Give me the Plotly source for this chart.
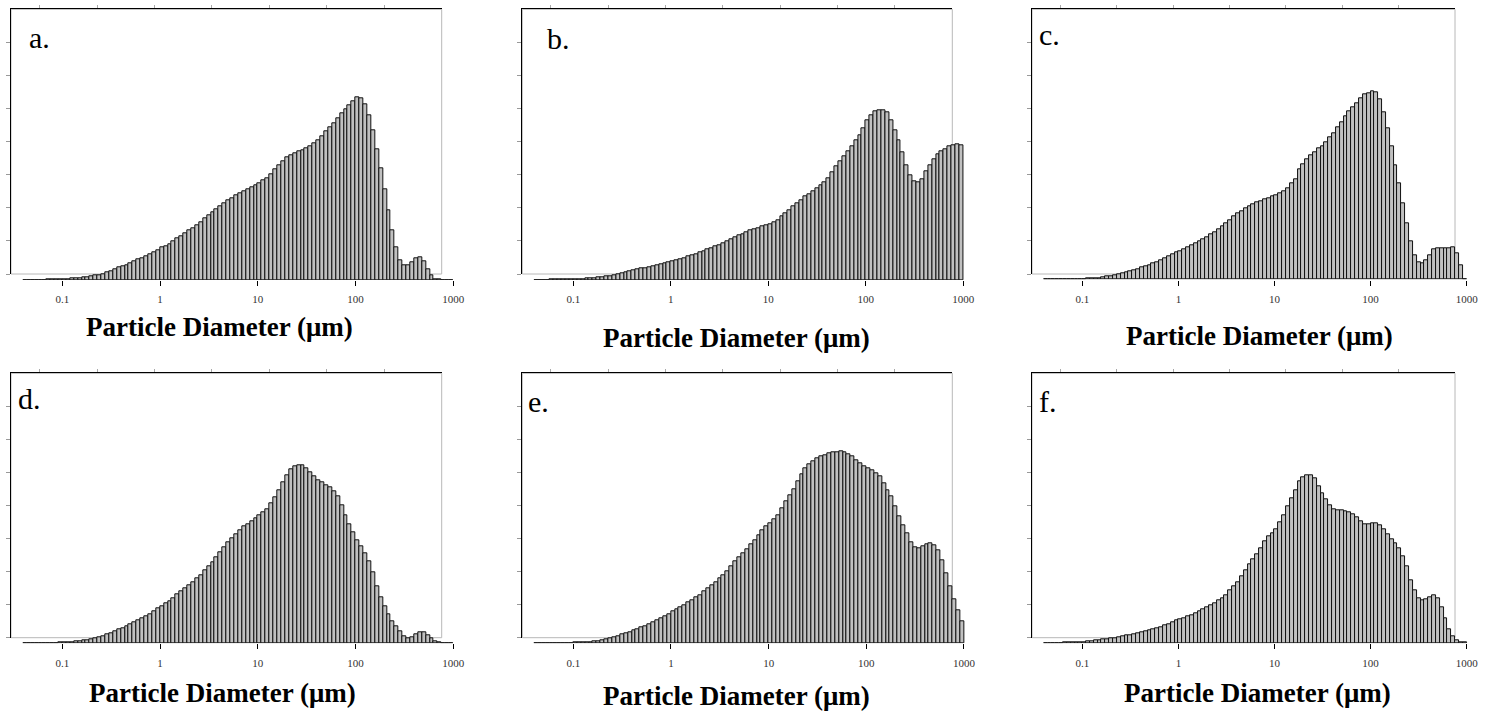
import numpy as np
import plotly.graph_objects as go

W, H = 1492, 713

# Instrument size channels: 110 log-spaced classes from ~0.04 to 1000 µm
BIN_LOG_MIN, BIN_LOG_MAX, N_BINS = -1.4, 3.0, 110

TICK_VALUES = [0.1, 1, 10, 100, 1000]
TICK_LABELS = ["0.1", "1", "10", "100", "1000"]
PANEL_LABELS = ["a.", "b.", "c.", "d.", "e.", "f."]
X_TITLE = "Particle Diameter (μm)"

# Relative frequency per channel (arbitrary units)
freq_a = [0, 0, 0, 0, 0, 0, 0.3, 0.3, 0.5, 0.7,
          0.8, 1.0, 1.3, 1.7, 2.0, 2.3, 3.0, 3.7, 4.3, 5.0,
          6.0, 7.3, 9.0, 10.7, 12.3, 13.7, 15.0, 16.7, 18.3, 20.3,
          22.0, 24.0, 26.0, 27.7, 29.7, 32.3, 34.0, 36.0, 39.0, 41.3,
          44.0, 46.7, 49.3, 52.0, 55.0, 58.0, 61.3, 64.7, 67.7, 70.7,
          73.3, 76.7, 79.3, 81.7, 84.7, 87.0, 88.7, 90.3, 92.7, 94.7,
          96.7, 99.3, 101.7, 106.0, 110.7, 115.0, 119.0, 122.7, 125.0, 126.7,
          128.3, 130.0, 132.0, 134.0, 136.7, 140.0, 144.0, 148.3, 152.7, 156.7,
          161.7, 166.7, 170.7, 175.0, 179.0, 182.7, 181.3, 175.7, 164.3, 149.3,
          130.7, 111.7, 91.0, 70.0, 50.0, 32.7, 20.0, 14.7, 14.7, 18.0,
          21.7, 22.7, 18.3, 10.7, 4.3, 1.0, 0.3, 0.2, 0, 0]

freq_b = [0.2, 0.2, 0.2, 0.2, 0.3, 0.3, 0.3, 0.5, 0.5, 0.7,
          0.7, 0.8, 1.0, 1.3, 1.7, 2.0, 2.3, 3.0, 3.3, 4.0,
          4.7, 5.7, 6.7, 7.3, 8.3, 9.3, 10.3, 11.3, 12.0, 13.0,
          14.0, 15.0, 15.7, 16.3, 17.3, 18.3, 19.7, 21.0, 22.0, 23.3,
          24.7, 26.0, 27.3, 29.0, 30.3, 31.7, 33.3, 35.0, 36.7, 38.7,
          40.7, 42.7, 44.3, 46.0, 47.7, 49.3, 50.7, 52.0, 53.3, 54.7,
          56.0, 58.0, 60.0, 63.3, 66.7, 69.3, 73.3, 76.7, 80.0, 83.3,
          86.0, 88.7, 91.3, 94.3, 97.3, 102.0, 107.3, 113.3, 118.3, 123.3,
          128.3, 134.0, 139.3, 145.0, 151.7, 159.3, 165.0, 168.3, 170.0, 169.3,
          167.3, 159.3, 150.0, 140.0, 127.3, 115.0, 105.0, 98.3, 97.7, 101.0,
          108.3, 115.0, 120.7, 126.0, 128.3, 131.0, 133.3, 134.7, 136.0, 134.3]

freq_c = [0, 0, 0, 0, 0, 0.2, 0.2, 0.3, 0.3, 0.5,
          0.7, 0.8, 1.0, 1.3, 1.7, 2.3, 2.8, 3.7, 4.3, 5.2,
          6.0, 7.0, 8.0, 9.0, 10.3, 12.0, 13.3, 14.7, 16.0, 17.7,
          19.3, 21.0, 23.0, 25.0, 27.0, 28.7, 30.7, 32.3, 34.3, 36.3,
          38.3, 40.3, 42.3, 45.0, 47.7, 50.3, 53.0, 56.0, 59.3, 63.0,
          66.0, 68.7, 71.3, 73.7, 75.3, 77.0, 78.7, 80.0, 81.7, 83.0,
          84.3, 86.7, 88.7, 91.7, 96.0, 100.7, 110.0, 115.3, 120.0, 124.3,
          127.7, 131.0, 133.7, 137.7, 142.0, 146.0, 152.0, 157.7, 163.3, 168.3,
          172.7, 176.7, 181.7, 185.0, 186.7, 188.0, 187.3, 180.0, 167.7, 151.7,
          133.3, 114.7, 96.0, 76.0, 56.0, 38.7, 24.7, 17.3, 16.0, 19.0,
          24.3, 30.0, 31.7, 31.7, 31.7, 31.7, 32.0, 26.0, 14.3, 0]

freq_d = [0.1, 0.2, 0.2, 0.2, 0.2, 0.3, 0.3, 0.3, 0.5, 0.7,
          0.8, 1.0, 1.3, 1.7, 2.2, 2.7, 3.3, 4.2, 5.0, 6.0,
          7.3, 8.7, 10.3, 12.0, 13.7, 15.3, 17.0, 19.0, 21.0, 23.0,
          25.0, 27.0, 29.3, 32.0, 34.7, 37.3, 39.7, 42.3, 45.3, 48.7,
          52.0, 55.3, 58.3, 61.3, 64.7, 68.3, 72.7, 76.7, 81.0, 85.7,
          90.7, 95.7, 100.7, 105.0, 109.3, 113.3, 116.7, 119.3, 122.3, 125.3,
          128.0, 131.0, 134.3, 140.0, 146.0, 153.3, 161.0, 168.3, 174.0, 177.3,
          178.0, 177.7, 175.0, 170.7, 167.3, 163.3, 160.7, 158.3, 155.7, 152.3,
          146.7, 138.3, 128.3, 119.3, 110.7, 103.3, 96.7, 90.0, 81.7, 71.0,
          57.3, 46.0, 36.7, 29.3, 21.7, 16.7, 11.7, 7.0, 5.0, 6.0,
          9.3, 10.7, 10.7, 8.0, 4.7, 1.7, 0.7, 0.2, 0.1, 0]

freq_e = [0.2, 0.2, 0.2, 0.2, 0.2, 0.2, 0.2, 0.3, 0.4, 0.5,
          0.6, 0.7, 0.9, 1.2, 1.5, 2.0, 2.5, 3.2, 4.0, 5.0,
          6.0, 7.3, 8.7, 10.0, 11.3, 12.7, 14.0, 15.7, 17.3, 19.0,
          21.0, 23.0, 25.0, 27.3, 29.3, 31.7, 34.0, 36.0, 38.3, 40.7,
          43.3, 45.7, 48.3, 51.7, 54.7, 57.7, 61.0, 64.7, 68.3, 72.3,
          76.7, 81.7, 85.7, 90.0, 94.3, 99.0, 103.3, 108.3, 112.7, 116.7,
          120.0, 124.3, 128.3, 135.0, 141.7, 148.3, 154.0, 161.7, 169.3, 175.0,
          179.3, 182.3, 185.0, 187.0, 188.3, 189.7, 190.7, 191.3, 191.7, 191.0,
          189.0, 186.7, 183.3, 180.0, 176.7, 175.0, 173.3, 170.0, 167.3, 160.0,
          153.3, 146.7, 136.7, 126.7, 118.3, 110.0, 100.7, 96.0, 95.0, 96.7,
          99.3, 100.0, 98.3, 92.7, 83.3, 70.0, 56.7, 44.0, 32.7, 21.7]

freq_f = [0.1, 0.2, 0.2, 0.3, 0.5, 0.7, 0.8, 1.0, 1.2, 1.3,
          1.5, 1.8, 2.2, 2.7, 3.2, 3.7, 4.2, 4.7, 5.3, 6.0,
          6.8, 7.7, 8.5, 9.3, 10.3, 11.3, 12.3, 13.3, 14.3, 15.3,
          16.3, 17.7, 19.3, 21.0, 22.7, 24.0, 25.3, 26.7, 28.3, 30.0,
          32.0, 34.0, 36.0, 38.0, 40.3, 42.7, 45.3, 48.3, 52.7, 56.7,
          61.3, 66.7, 72.7, 79.3, 84.0, 89.3, 95.0, 101.7, 106.7, 110.0,
          114.0, 120.7, 128.3, 136.7, 145.0, 153.3, 161.7, 166.0, 168.0, 168.0,
          165.0, 157.3, 150.0, 144.0, 137.7, 134.3, 133.3, 132.7, 131.7, 131.0,
          129.0, 126.0, 121.7, 119.3, 119.3, 119.7, 120.0, 118.3, 114.0, 109.3,
          104.3, 100.0, 95.0, 86.7, 76.7, 63.3, 52.7, 45.0, 42.7, 44.0,
          46.3, 48.0, 44.7, 36.0, 25.0, 14.0, 7.3, 3.3, 1.3, 0.7]

SERIES = [freq_a, freq_b, freq_c, freq_d, freq_e, freq_f]

# ---- layout geometry (pixels in the 1492x713 page) ----
PANELS = [
    dict(p01=62.3, p1000=453.3, base=280.0, frame=(11.0, 9.3, 441.7, 274.0), letter=(27.0, 48.0), title=(220.0, 327.0)),
    dict(p01=573.3, p1000=963.3, base=280.0, frame=(522.3, 9.3, 952.3, 274.0), letter=(544.7, 48.3), title=(736.5, 338.0)),
    dict(p01=1082.3, p1000=1466.7, base=279.5, frame=(1032.0, 9.3, 1455.0, 274.0), letter=(1036.7, 45.0), title=(1259.0, 336.0)),
    dict(p01=62.3, p1000=453.3, base=643.3, frame=(11.0, 373.3, 441.7, 637.7), letter=(15.7, 408.3), title=(223.0, 692.5)),
    dict(p01=573.3, p1000=964.0, base=643.3, frame=(522.3, 373.3, 952.3, 637.7), letter=(525.7, 411.7), title=(736.0, 696.0)),
    dict(p01=1082.3, p1000=1466.7, base=643.3, frame=(1032.0, 373.3, 1455.0, 637.7), letter=(1037.3, 411.7), title=(1257.0, 692.5)),
]

SERIF = "Liberation Serif, Times New Roman, serif"
BAR_FILL = "#c0c0c0"
BAR_EDGE = "#101010"
FRAME_GRAY = "#b8b8b8"

edges = np.linspace(BIN_LOG_MIN, BIN_LOG_MAX, N_BINS + 1)
centers = (edges[:-1] + edges[1:]) / 2.0
bin_w = edges[1] - edges[0]
tickvals = np.log10(TICK_VALUES).tolist()


def px_x(p):
    return p / W


def px_y(p):
    return 1.0 - p / H


fig = go.Figure()
layout = dict(
    width=W, height=H,
    margin=dict(l=0, r=0, t=0, b=0),
    paper_bgcolor="white", plot_bgcolor="rgba(0,0,0,0)",
    showlegend=False, bargap=0, template="none",
)
shapes = []
annotations = []

n = len(PANELS)
# frame subplots first (drawn underneath), each with an empty placeholder trace
for i, pn in enumerate(PANELS):
    fi = i + 1
    fxr = "x" if fi == 1 else f"x{fi}"
    fyr = "y" if fi == 1 else f"y{fi}"
    fig.add_trace(go.Scatter(x=[], y=[], xaxis=fxr, yaxis=fyr, mode="markers",
                             hoverinfo="skip", showlegend=False))

for i, (pn, vals) in enumerate(zip(PANELS, SERIES)):
    fi = i + 1          # frame axes id
    hi = i + 1 + n      # histogram axes id
    fx = "xaxis" if fi == 1 else f"xaxis{fi}"
    fy = "yaxis" if fi == 1 else f"yaxis{fi}"
    fxr = "x" if fi == 1 else f"x{fi}"
    fyr = "y" if fi == 1 else f"y{fi}"
    hx, hy = f"xaxis{hi}", f"yaxis{hi}"
    hxr, hyr = f"x{hi}", f"y{hi}"

    L, T, R, B = pn["frame"]
    # frame axes: black top/left lines with small gray ticks
    layout[fx] = dict(
        domain=[px_x(L), px_x(R)], anchor=fyr, side="top", range=[0, 7.5],
        tickmode="array", tickvals=[0.5 + k for k in range(7)],
        ticks="outside", ticklen=3, tickwidth=1, tickcolor="#a8a8a8",
        showticklabels=False, showgrid=False, zeroline=False,
        showline=True, linecolor="#000000", linewidth=1, fixedrange=True,
    )
    layout[fy] = dict(
        domain=[px_y(B), px_y(T)], anchor=fxr, side="left", range=[0, 8],
        tickmode="array", tickvals=list(range(8)),
        ticks="outside", ticklen=4, tickwidth=1, tickcolor="#999999",
        showticklabels=False, showgrid=False, zeroline=False,
        showline=True, linecolor="#000000", linewidth=1, fixedrange=True,
    )
    shapes.append(dict(
        type="rect", xref=f"{fxr} domain", yref=f"{fyr} domain",
        x0=0, x1=1, y0=0, y1=1, layer="below",
        line=dict(color=FRAME_GRAY, width=1), fillcolor="rgba(0,0,0,0)",
    ))

    # histogram axes
    dec = (pn["p1000"] - pn["p01"]) / 4.0
    r0, r1 = -1.45, 3.05
    d0 = pn["p01"] + (r0 + 1) * dec
    d1 = pn["p01"] + (r1 + 1) * dec
    base = pn["base"]
    layout[hx] = dict(
        domain=[px_x(d0), px_x(d1)], anchor=hyr, range=[r0, r1],
        tickmode="array", tickvals=tickvals, ticktext=TICK_LABELS,
        ticks="outside", ticklen=5, tickwidth=1, tickcolor="#000000",
        tickfont=dict(family=SERIF, size=11, color="#333333"),
        ticklabelstandoff=4,
        showgrid=False, zeroline=False, showline=False, fixedrange=True,
    )
    layout[hy] = dict(
        domain=[px_y(base), px_y(T)], anchor=hxr, range=[0, base - T],
        visible=False, fixedrange=True,
    )
    fig.add_trace(go.Bar(
        x=centers, y=vals, width=bin_w, xaxis=hxr, yaxis=hyr,
        marker=dict(color=BAR_FILL, line=dict(color=BAR_EDGE, width=1)),
        hoverinfo="skip", showlegend=False,
    ))

    lx, lb = pn["letter"]
    annotations.append(dict(
        text=PANEL_LABELS[i], xref="paper", yref="paper",
        x=px_x(lx), y=px_y(lb - 10.0), xanchor="left", yanchor="middle",
        showarrow=False, font=dict(family=SERIF, size=30, color="#000000"),
    ))
    tx, ty = pn["title"]
    annotations.append(dict(
        text=f"<b>{X_TITLE}</b>", xref="paper", yref="paper",
        x=px_x(tx), y=px_y(ty), xanchor="center", yanchor="middle",
        showarrow=False, font=dict(family=SERIF, size=27, color="#000000"),
    ))

layout["shapes"] = shapes
layout["annotations"] = annotations
fig.update_layout(**layout)
fig.write_html("out.html", config={"displayModeBar": False})
